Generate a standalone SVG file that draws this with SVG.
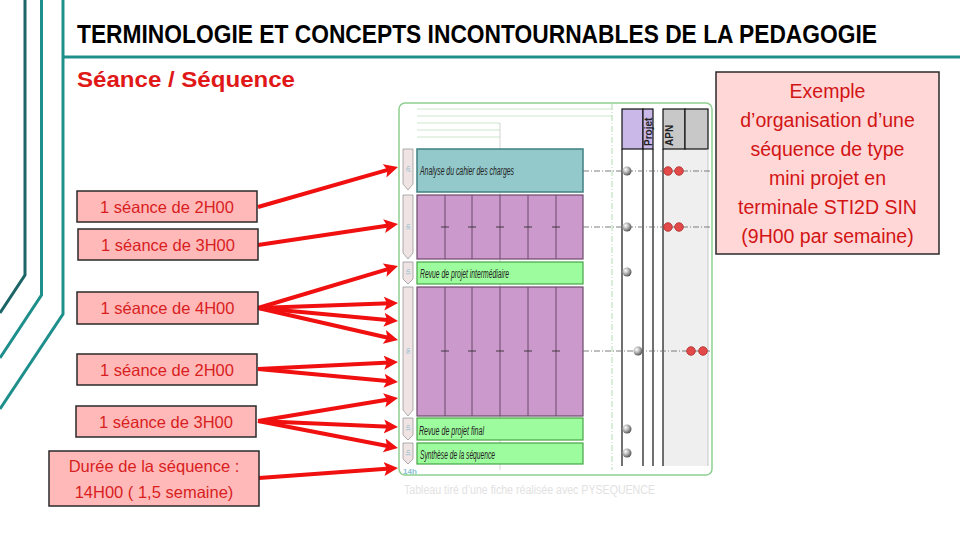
<svg xmlns="http://www.w3.org/2000/svg" width="960" height="540" viewBox="0 0 960 540">
<style>
.deco{fill:none;stroke:#1f8f8c;stroke-width:3}
.box{fill:#ffb9b9;stroke:#2a2a2a;stroke-width:1.5}
.btxt{font-family:"Liberation Sans",Arial,sans-serif;font-size:16.5px;fill:#d81e1e;text-anchor:middle}
.rtxt{font-family:"Liberation Sans",Arial,sans-serif;font-size:19.5px;fill:#d21414;text-anchor:middle}
.arr{fill:none;stroke:#f01010;stroke-width:4}
.tarrow{fill:#efe3e3;stroke:#9a9a9a;stroke-width:0.8}
.tlab{font-family:"Liberation Sans",Arial,sans-serif;font-size:6px;fill:#8cbccc;text-anchor:middle}
.purple{fill:#cc99cc;stroke:#6a4a6a;stroke-width:1.2}
.green{fill:#9dfc9d;stroke:#45a545;stroke-width:1.2}
.rowt{font-family:"Liberation Sans",Arial,sans-serif;font-size:12px;font-style:italic;fill:#222}
.div{stroke:#6a4a6a;stroke-width:1}
.dd{stroke:#707070;stroke-width:0.9;stroke-dasharray:6 2 1 2;fill:none}
.blk{stroke:#111;stroke-width:1.2}
.hdr{font-family:"Liberation Sans",Arial,sans-serif;font-size:10px;font-weight:bold;fill:#222}
.link{stroke:#222;stroke-width:0.8}
</style>
<defs>
<marker id="ah" markerUnits="userSpaceOnUse" markerWidth="15" markerHeight="15" refX="6" refY="7" orient="auto">
<path d="M0,0 L14,7 L0,14 L3,7 z" fill="#f01010"/>
</marker>
<radialGradient id="sph" cx="0.35" cy="0.35" r="0.7">
<stop offset="0" stop-color="#ffffff"/>
<stop offset="0.5" stop-color="#b0b0b0"/>
<stop offset="1" stop-color="#505050"/>
</radialGradient>
</defs>
<rect width="960" height="540" fill="#ffffff"/>
<!-- decorative lines -->
<polyline class="deco" points="25,0 25,275 0,313" style="stroke:#1d6466"/>
<polyline class="deco" points="41.5,0 41.5,295 0,358"/>
<polyline class="deco" points="63,0 63,314 0,409"/>
<line x1="63" y1="57" x2="960" y2="57" stroke="#1f8f8c" stroke-width="3"/>
<text x="77" y="43" font-family="'Liberation Sans',Arial,sans-serif" font-size="25" font-weight="bold" fill="#000" textLength="800" lengthAdjust="spacingAndGlyphs">TERMINOLOGIE ET CONCEPTS INCONTOURNABLES DE LA PEDAGOGIE</text>
<text x="77" y="87" font-family="'Liberation Sans',Arial,sans-serif" font-size="22" font-weight="bold" fill="#e01818" textLength="218" lengthAdjust="spacingAndGlyphs">Séance / Séquence</text>

<!-- embedded table picture -->
<g id="table">
<rect x="399" y="103" width="313" height="372" rx="6" fill="#ffffff" stroke="#8fcf8f" stroke-width="1.5"/>
<g stroke="#bfe0bf" stroke-width="0.8">
<line x1="417" y1="109" x2="612" y2="109"/>
<line x1="417" y1="116" x2="612" y2="116"/>
<line x1="417" y1="123" x2="500" y2="123"/>
<line x1="417" y1="130" x2="500" y2="130"/>
<line x1="417" y1="137" x2="500" y2="137"/>
</g>
<line x1="500" y1="123" x2="500" y2="470" stroke="#c8c8c8" stroke-width="0.8"/>
<line x1="612" y1="104" x2="612" y2="470" stroke="#a8d8a8" stroke-width="0.9" stroke-dasharray="6 2 1 2"/>
<!-- time arrows -->
<polygon class="tarrow" points="403,149 413,149 413,184 408,190 403,184"/>
<polygon class="tarrow" points="403,195 413,195 413,253 408,259 403,253"/>
<polygon class="tarrow" points="403,262 413,262 413,279 408,284 403,279"/>
<polygon class="tarrow" points="403,287 413,287 413,410 408,416 403,410"/>
<polygon class="tarrow" points="403,418 413,418 413,435 408,440 403,435"/>
<polygon class="tarrow" points="403,443 413,443 413,459 408,464 403,459"/>
<text class="tlab" transform="translate(410,169) rotate(-90)">2h</text>
<text class="tlab" transform="translate(410,227) rotate(-90)">3h</text>
<text class="tlab" transform="translate(410,272) rotate(-90)">1h</text>
<text class="tlab" transform="translate(410,351) rotate(-90)">6h</text>
<text class="tlab" transform="translate(410,428) rotate(-90)">1h</text>
<text class="tlab" transform="translate(410,453) rotate(-90)">1h</text>
<text x="403" y="474" font-family="'Liberation Sans',Arial,sans-serif" font-size="8" font-weight="bold" fill="#88c0d0">14h</text>
<!-- rows -->
<rect x="417" y="149" width="166" height="43" fill="#93c9cb" stroke="#3f7f80" stroke-width="1.5"/>
<text class="rowt" x="420" y="175" textLength="94" lengthAdjust="spacingAndGlyphs">Analyse du cahier des charges</text>
<rect class="purple" x="417" y="195" width="166" height="64"/>
<g class="div"><line x1="445" y1="195" x2="445" y2="259"/><line x1="472" y1="195" x2="472" y2="259"/><line x1="500" y1="195" x2="500" y2="259"/><line x1="528" y1="195" x2="528" y2="259"/><line x1="556" y1="195" x2="556" y2="259"/></g>
<g class="link"><line x1="441" y1="227" x2="449" y2="227"/><line x1="468" y1="227" x2="476" y2="227"/><line x1="496" y1="227" x2="504" y2="227"/><line x1="524" y1="227" x2="532" y2="227"/><line x1="552" y1="227" x2="560" y2="227"/></g>
<rect class="green" x="417" y="262" width="166" height="22"/>
<text class="rowt" x="420" y="278" textLength="89" lengthAdjust="spacingAndGlyphs">Revue de projet intermédiaire</text>
<rect class="purple" x="417" y="287" width="166" height="129"/>
<g class="div"><line x1="445" y1="287" x2="445" y2="416"/><line x1="472" y1="287" x2="472" y2="416"/><line x1="500" y1="287" x2="500" y2="416"/><line x1="528" y1="287" x2="528" y2="416"/><line x1="556" y1="287" x2="556" y2="416"/></g>
<g class="link"><line x1="441" y1="351" x2="449" y2="351"/><line x1="468" y1="351" x2="476" y2="351"/><line x1="496" y1="351" x2="504" y2="351"/><line x1="524" y1="351" x2="532" y2="351"/><line x1="552" y1="351" x2="560" y2="351"/></g>
<rect class="green" x="417" y="418" width="166" height="22"/>
<text class="rowt" x="419" y="435" textLength="65" lengthAdjust="spacingAndGlyphs">Revue de projet final</text>
<rect class="green" x="417" y="443" width="166" height="21"/>
<text class="rowt" x="420" y="459" textLength="75" lengthAdjust="spacingAndGlyphs">Synthèse de la séquence</text>
<!-- right columns -->
<rect x="663" y="149" width="45" height="317" fill="#efefef"/>
<rect x="622" y="109" width="21" height="40" fill="#c9b8e8" stroke="#111" stroke-width="1.2"/>
<rect x="643" y="109" width="10" height="40" fill="#c9b8e8" stroke="#111" stroke-width="1.2"/>
<rect x="663" y="109" width="22" height="40" fill="#c8c8c8" stroke="#111" stroke-width="1.2"/>
<rect x="685" y="109" width="23" height="40" fill="#c8c8c8" stroke="#111" stroke-width="1.2"/>
<text class="hdr" transform="translate(652,146) rotate(-90)">Projet</text>
<text class="hdr" transform="translate(673,146) rotate(-90)" font-weight="normal" font-size="11">APN</text>
<line class="blk" x1="622" y1="149" x2="622" y2="466"/>
<line class="blk" x1="643" y1="149" x2="643" y2="466"/>
<line class="blk" x1="653" y1="149" x2="653" y2="466"/>
<line class="blk" x1="663" y1="149" x2="663" y2="466"/>
<line x1="708" y1="149" x2="708" y2="466" stroke="#c8c8c8" stroke-width="1"/>
<line class="dd" x1="583" y1="171" x2="712" y2="171"/>
<line class="dd" x1="583" y1="227" x2="712" y2="227"/>
<line class="dd" x1="583" y1="351" x2="712" y2="351"/>
<g fill="url(#sph)">
<circle cx="627" cy="171" r="4.5"/><circle cx="627" cy="227" r="4.5"/><circle cx="627" cy="272" r="4.5"/>
<circle cx="638" cy="351" r="4.5"/><circle cx="627" cy="429" r="4.5"/><circle cx="627" cy="453" r="4.5"/>
</g>
<g fill="#e24a4a" stroke="#b02828" stroke-width="0.8">
<circle cx="668" cy="171" r="4.3"/><circle cx="679" cy="171" r="4.3"/>
<circle cx="668" cy="227" r="4.3"/><circle cx="679" cy="227" r="4.3"/>
<circle cx="691" cy="351" r="4.3"/><circle cx="703" cy="351" r="4.3"/>
</g>
<text x="404" y="494" font-family="'Liberation Sans',Arial,sans-serif" font-size="12" fill="#e2e2e2" textLength="251" lengthAdjust="spacingAndGlyphs">Tableau tiré d’une fiche réalisée avec  PYSEQUENCE</text>
</g>

<!-- connectors -->
<g id="connectors" class="arr" marker-end="url(#ah)">
<line x1="258" y1="207" x2="390.3" y2="169.2"/>
<line x1="258" y1="245" x2="390.1" y2="225.2"/>
<line x1="258" y1="308" x2="390.3" y2="268.3"/>
<line x1="258" y1="308" x2="390" y2="303.3"/>
<line x1="258" y1="308" x2="390" y2="320.3"/>
<line x1="258" y1="308" x2="390.2" y2="338.2"/>
<line x1="258" y1="369" x2="390" y2="362.4"/>
<line x1="258" y1="369" x2="390" y2="381.3"/>
<line x1="258" y1="421" x2="390.1" y2="399.3"/>
<line x1="258" y1="421" x2="390" y2="426.7"/>
<line x1="258" y1="421" x2="390.1" y2="446.5"/>
<line x1="259" y1="478" x2="390" y2="468.6"/>
</g>

<!-- nodes -->
<g id="n1"><rect class="box" x="77" y="191" width="180" height="31"/><text class="btxt" x="167" y="213">1 séance de 2H00</text></g>
<g id="n2"><rect class="box" x="78" y="229" width="180" height="31"/><text class="btxt" x="168" y="251">1 séance de 3H00</text></g>
<g id="n3"><rect class="box" x="77" y="292" width="181" height="32"/><text class="btxt" x="167.5" y="314">1 séance de 4H00</text></g>
<g id="n4"><rect class="box" x="77" y="354" width="180" height="31"/><text class="btxt" x="167" y="376">1 séance de 2H00</text></g>
<g id="n5"><rect class="box" x="76" y="406" width="180" height="31"/><text class="btxt" x="166" y="428">1 séance de 3H00</text></g>
<g id="n6"><rect class="box" x="49" y="451" width="210" height="55"/><text class="btxt" x="154" y="472">Durée de la séquence :</text><text class="btxt" x="154" y="498">14H00 ( 1,5 semaine)</text></g>
<g id="note"><rect x="716" y="72" width="223" height="182" fill="#ffd7d7" stroke="#2a2a2a" stroke-width="1.5"/>
<text class="rtxt" x="827.5" y="98">Exemple</text>
<text class="rtxt" x="827.5" y="127">d’organisation d’une</text>
<text class="rtxt" x="827.5" y="156">séquence de type</text>
<text class="rtxt" x="827.5" y="185">mini projet en</text>
<text class="rtxt" x="827.5" y="214">terminale STI2D SIN</text>
<text class="rtxt" x="827.5" y="243">(9H00 par semaine)</text>
</g>
</svg>
